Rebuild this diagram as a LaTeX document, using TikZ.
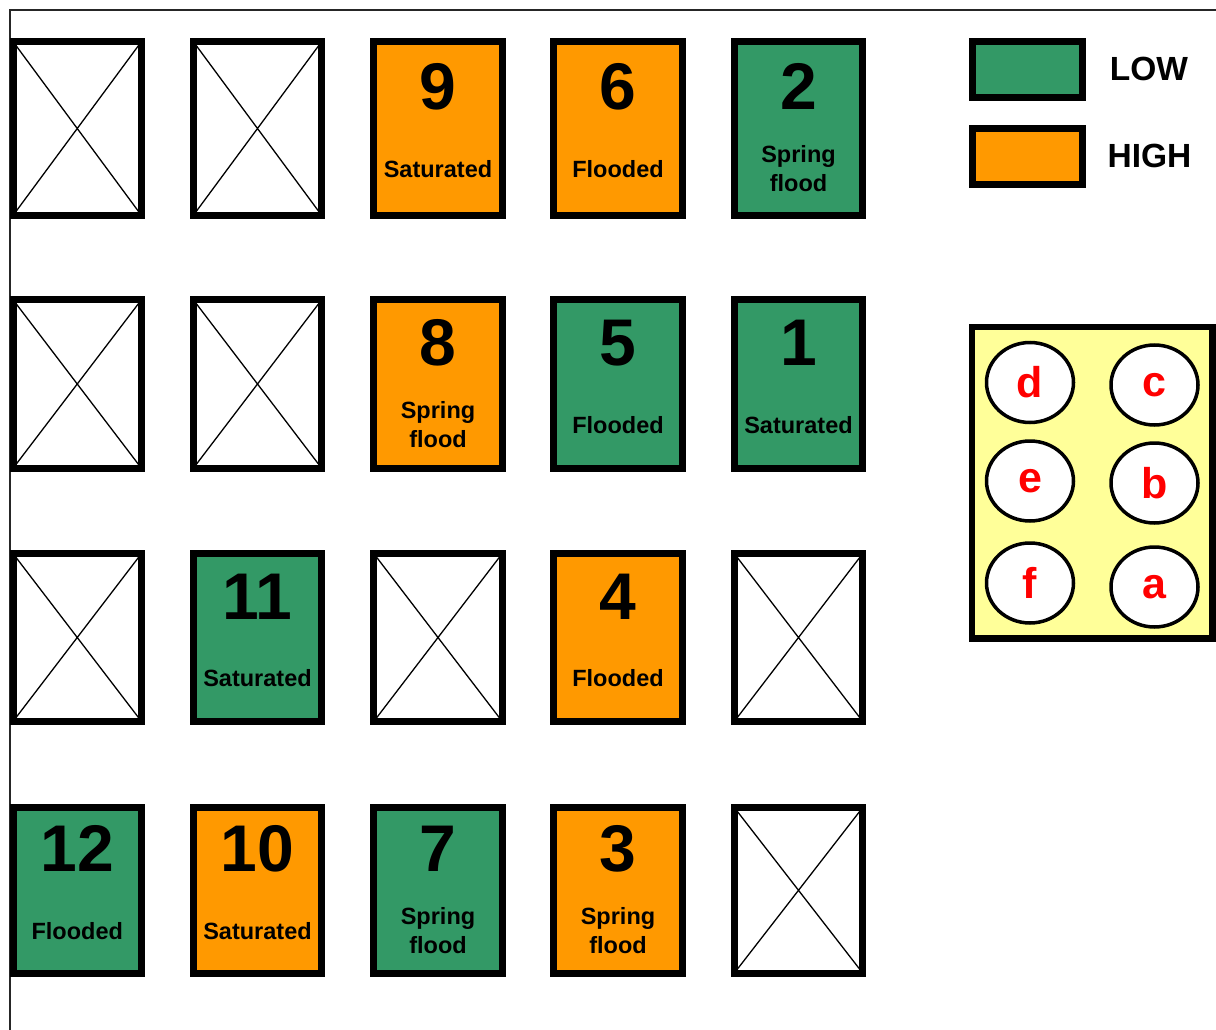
\documentclass[tikz,border=0pt]{standalone}
\usepackage{fontspec}
\setmainfont{Liberation Sans}
\usetikzlibrary{shapes.geometric}
\definecolor{lowgreen}{HTML}{339966}
\definecolor{highorange}{HTML}{FF9900}
\definecolor{panelyellow}{HTML}{FFFF99}
\newcommand{\mytile}[6]{% name, x, ycenter, height, fill, number
  \node[tilebox, fill=#5, minimum height=#4pt] (#1) at (#2,#3) {};
  \node[numtext] (#1num) at ([yshift=18.5pt]#1.center) {#6};
}
\newcommand{\mycross}[4]{% name, x, ycenter, height
  \node[crossbox, minimum height=#4pt] (#1) at (#2,#3) {};
}
\newcommand{\mylab}[2]{% tile name, label
  \node[labtext] (#1lab) at ([yshift=-49pt]#1.center) {#2};
}
\newcommand{\myspring}[1]{% tile name
  \node[labtext] (#1laba) at ([yshift=-34pt]#1.center) {Spring};
  \node[labtext] (#1labb) at ([yshift=-63.5pt]#1.center) {flood};
}
\begin{document}
\begin{tikzpicture}[x=1pt,y=-1pt,
  tilebox/.style={draw=black, line width=7pt, inner sep=0pt, outer sep=0pt, minimum width=128.5pt},
  crossbox/.style={tilebox, fill=white, path picture={
      \draw[line width=1.3pt] (path picture bounding box.north west) -- (path picture bounding box.south east)
        (path picture bounding box.south west) -- (path picture bounding box.north east);}},
  numtext/.style={font=\fontsize{66}{66}\selectfont\bfseries, anchor=base, inner sep=0pt},
  labtext/.style={font=\fontsize{23.5}{30}\selectfont\bfseries, anchor=base, inner sep=0pt},
  keybox/.style={draw=black, line width=7pt, inner sep=0pt, outer sep=0pt, minimum width=109.5pt, minimum height=56pt},
  keytext/.style={font=\fontsize{33.5}{33.5}\selectfont\bfseries, anchor=base, inner sep=0pt},
  panelbox/.style={draw=black, line width=6.5pt, fill=panelyellow, inner sep=0pt, outer sep=0pt},
  pit/.style={ellipse, draw=black, line width=3.5pt, fill=white, inner sep=0pt, outer sep=0pt,
      minimum width=87pt, minimum height=80pt, text=red, font=\fontsize{43}{43}\selectfont\bfseries}
]
\useasboundingbox (0,0) rectangle (1216,1030);
% frame
\coordinate (fa) at (10,10);
\coordinate (fb) at (1216,10);
\coordinate (fc) at (10,1030);
\draw[line width=2.5pt, black!85] (fb) -- (fa) -- (fc);

% row 1 (y 128.5, h 174)
\mycross{r1c1}{77.25}{128.5}{174}
\mycross{r1c2}{257.5}{128.5}{174}
\mytile{t9}{438}{128.5}{174}{highorange}{9}\mylab{t9}{Saturated}
\mytile{t6}{618}{128.5}{174}{highorange}{6}\mylab{t6}{Flooded}
\mytile{t2}{798.5}{128.5}{174}{lowgreen}{2}\myspring{t2}

% row 2 (y 384, h 168.7)
\mycross{r2c1}{77.25}{384}{168.7}
\mycross{r2c2}{257.5}{384}{168.7}
\mytile{t8}{438}{384}{168.7}{highorange}{8}\myspring{t8}
\mytile{t5}{618}{384}{168.7}{lowgreen}{5}\mylab{t5}{Flooded}
\mytile{t1}{798.5}{384}{168.7}{lowgreen}{1}\mylab{t1}{Saturated}

% row 3 (y 637.5, h 168)
\mycross{r3c1}{77.25}{637.5}{168}
\mytile{t11}{257.5}{637.5}{168}{lowgreen}{11}\mylab{t11}{Saturated}
\mycross{r3c3}{438}{637.5}{168}
\mytile{t4}{618}{637.5}{168}{highorange}{4}\mylab{t4}{Flooded}
\mycross{r3c5}{798.5}{637.5}{168}

% row 4 (y 890.3, h 165.7)
\mytile{t12}{77.25}{890.3}{165.7}{lowgreen}{12}\mylab{t12}{Flooded}
\mytile{t10}{257.5}{890.3}{165.7}{highorange}{10}\mylab{t10}{Saturated}
\mytile{t7}{438}{890.3}{165.7}{lowgreen}{7}\myspring{t7}
\mytile{t3}{618}{890.3}{165.7}{highorange}{3}\myspring{t3}
\mycross{r4c5}{798.5}{890.3}{165.7}

% legend
\node[keybox, fill=lowgreen] (lowkey) at (1027.25,69.75) {};
\node[keybox, fill=highorange, minimum height=55.5pt] (highkey) at (1027.25,156.75) {};
\node[keytext] (lowtxt) at (1149,80.7) {LOW};
\node[keytext] (hightxt) at (1149.5,167.3) {HIGH};

% panel
\node[panelbox, minimum width=240.5pt, minimum height=311.5pt] (panel) at (1092.25,482.75) {};
\node[pit] (pd) at (1030,382.5) {d};
\node[pit] (pc) at (1154.5,385) {c};
\node[pit] (pe) at (1030,481) {e};
\node[pit] (pb) at (1154.5,483) {b};
\node[pit] (pf) at (1030,583) {f};
\node[pit] (pa) at (1154.5,587) {a};
\end{tikzpicture}
\end{document}
